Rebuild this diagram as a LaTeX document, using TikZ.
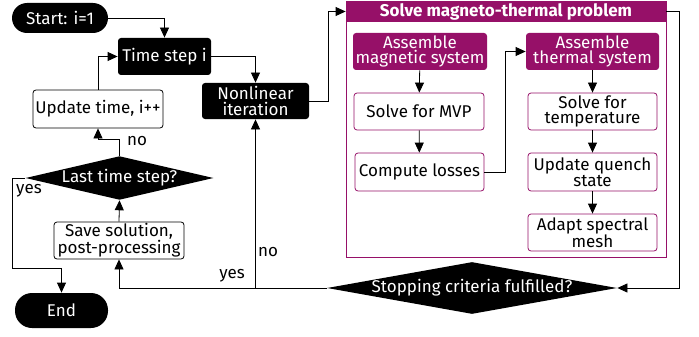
\documentclass[tikz,border=0pt]{standalone}
\usepackage{fontspec}
\setmainfont{Fira Sans}
\usetikzlibrary{arrows.meta,shapes.geometric}
\definecolor{mtpurple}{RGB}{150,16,104}
\begin{document}
\begin{tikzpicture}[x=1pt,y=1pt,yscale=-1,xscale=1,
    font=\fontsize{17}{15.5}\selectfont,
    line width=0.8pt,
    arr/.style={-{Triangle[length=10pt,width=9pt]}},
    blackbox/.style={rectangle,rounded corners=3pt,fill=black,text=white,align=center,inner sep=1pt},
    termbox/.style={rectangle,rounded corners=15pt,fill=black,text=white,align=center,inner sep=1pt},
    whitebox/.style={rectangle,rounded corners=3pt,draw=black,fill=white,align=center,inner sep=1pt},
    purplebox/.style={rectangle,rounded corners=3pt,fill=mtpurple,text=white,align=center,inner sep=1pt},
    stepbox/.style={rectangle,rounded corners=3pt,draw=mtpurple,fill=white,align=center,inner sep=1pt},
    decision/.style={diamond,fill=black,text=white,inner sep=0pt}]
    \useasboundingbox (0,0) rectangle (699,337);
    %Shape: container
    \node [draw=mtpurple,minimum width=320,minimum height=256,inner sep=0pt] (solve) at (506,129) {};
    \node [fill=mtpurple,text=white,minimum width=320,minimum height=21,inner sep=0pt,font=\fontsize{17}{15.5}\selectfont\bfseries] (title) at (506,11.5) {Solve magneto-thermal problem};
    % Time loop
    \node [termbox,minimum width=96,minimum height=30] (start) at (60,18) {Start: i=1};
    \node [blackbox,minimum width=93,minimum height=37] (tstep) at (164.5,56.5) {Time step i};
    \node [blackbox,minimum width=107,minimum height=36] (nonlin) at (255.5,101) {Nonlinear\\iteration};
    \node [whitebox,minimum width=130,minimum height=38] (update) at (98,109) {Update time, i++};
    \node [decision,aspect=4.3,minimum width=185,minimum height=43] (last) at (119.5,178) {Last time step?};
    \node [whitebox,minimum width=130,minimum height=37] (save) at (119,240.5) {Save solution,\\post-processing};
    \node [termbox,rounded corners=17pt,minimum width=93,minimum height=35] (end) at (61.5,310.5) {End};
    \node [decision,aspect=5.6,inner xsep=-8pt,minimum width=290,minimum height=52] (stop) at (472,288) {Stopping criteria fulfilled?};
    % Magnetic part
    \node [purplebox,minimum width=134,minimum height=37] (asmmag) at (420,51.5) {Assemble\\magnetic system};
    \node [stepbox,minimum width=130,minimum height=37] (mvp) at (419,111.5) {Solve for MVP};
    \node [stepbox,minimum width=129,minimum height=38] (losses) at (419.5,172) {Compute losses};
    % Thermal part
    \node [purplebox,minimum width=133,minimum height=37] (asmth) at (592.5,51.5) {Assemble\\thermal system};
    \node [stepbox,minimum width=129,minimum height=37] (temp) at (592.5,111.5) {Solve for\\temperature};
    \node [stepbox,minimum width=129,minimum height=38] (quench) at (592.5,172) {Update quench\\state};
    \node [stepbox,minimum width=129,minimum height=37] (mesh) at (592.5,232.5) {Adapt spectral\\mesh};
    % Connectors
    \draw [arr] (start.east) -| (tstep.north);
    \draw [arr] (tstep.east) -| (nonlin.north);
    \draw [arr] (update.north) |- (tstep.west);
    \draw [arr] (last.north) -- ++(0,-16) -| (update.south);
    \draw [arr] (save.north) -- (last.south);
    \draw [arr] (last.west) -| (12,268) -| (end.north);
    \draw [arr] (stop.west) -| (save.south);
    \draw [arr] (nonlin.south |- stop.west) -- (nonlin.south);
    \draw [arr] (nonlin.east) -- ++(19,0) |- (title.west);
    \draw [arr] (title.east) -- ++(13,0) |- (stop.east);
    \draw [arr] (asmmag) -- (mvp);
    \draw [arr] (mvp) -- (losses);
    \draw [arr] (losses.east) -- ++(21,0) |- (asmth.west);
    \draw [arr] (asmth) -- (temp);
    \draw [arr] (temp) -- (quench);
    \draw [arr] (quench) -- (mesh);
    % Text Node
    \node (lno1) at (137,141) {no};
    \node (lyes1) at (29,191) {yes};
    \node (lyes2) at (232,276) {yes};
    \node (lno2) at (268,252) {no};
\end{tikzpicture}
\end{document}
